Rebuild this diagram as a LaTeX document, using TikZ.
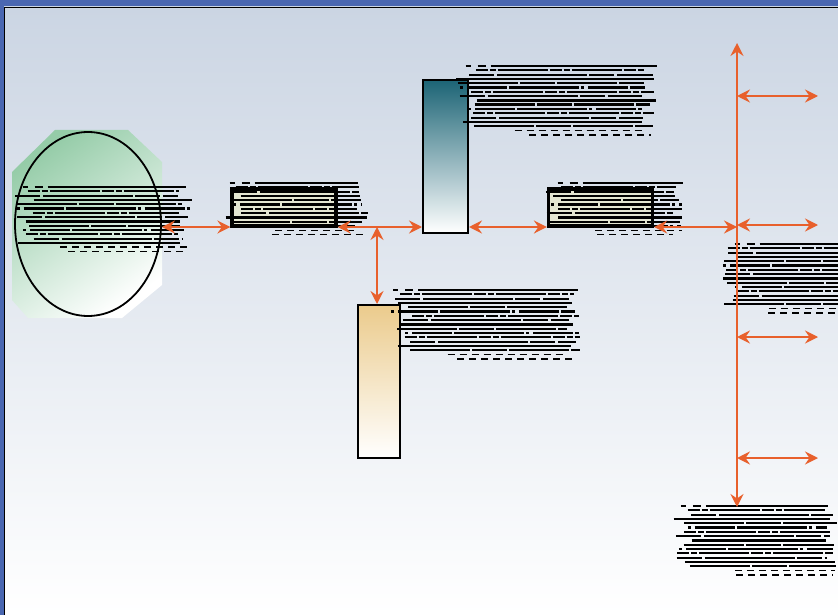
\documentclass[tikz,border=0pt]{standalone}
\usetikzlibrary{shapes.geometric,arrows.meta}
\definecolor{frameblue}{HTML}{4A67B1}
\definecolor{bgtop}{HTML}{CBD5E3}
\definecolor{arrorange}{HTML}{E8602C}
\definecolor{tealtop}{HTML}{1C6475}
\definecolor{tantop}{HTML}{EBCB8C}
\definecolor{greentop}{HTML}{95CCA8}
\definecolor{boxfill}{HTML}{E4E6D2}
\tikzset{
  darr/.style={draw=arrorange, line width=2.4pt,
    {Stealth[length=13pt,width=13pt,inset=4.5pt]}-{Stealth[length=13pt,width=13pt,inset=4.5pt]}},
  flatbox/.style={rectangle, draw=black, line width=3.2pt, fill=boxfill,
    minimum width=104pt, minimum height=37pt, inner sep=0pt},
  bar/.style={rectangle, draw=black, line width=2pt, inner sep=0pt, bottom color=white},
  scr0/.style={black, line width=2.4pt, dash pattern=on 60pt off 2pt on 35pt off 2pt},
  scr1/.style={black, line width=2.1pt, dash pattern=on 25pt off 3pt on 90pt off 2pt},
  scr2/.style={black, line width=2.3pt, dash pattern=on 3pt off 4pt on 40pt off 2pt on 70pt off 2pt},
  scr3/.style={black, line width=2.6pt},
  scr4/.style={black, line width=2.0pt, dash pattern=on 12pt off 2pt on 6pt off 2pt on 50pt off 2pt},
  scr5/.style={black, line width=2.0pt, dash pattern=on 5pt off 7pt on 8pt off 5pt on 300pt},
  scr6/.style={black, line width=1.6pt, dash pattern=on 7pt off 5pt},
}
\pgfmathsetseed{12}
\newcommand\scrib[4]{%
  \foreach \r in {1,...,#4}{%
    \pgfmathsetmacro\yy{#2+(\r-1)*4.3}%
    \pgfmathsetmacro\xs{#1+rnd*0.12*#3}%
    \pgfmathsetmacro\xe{#1+#3-rnd*0.08*#3}%
    \pgfmathtruncatemacro\k{mod(\r*7,5)}%
    \ifnum\r=1 \def\k{5}\fi
    \ifnum\r>\numexpr#4-2\relax
      \def\k{6}%
      \pgfmathsetmacro\xs{#1+(0.25+0.15*rnd)*#3}%
    \fi
    \draw[scr\k] (\xs,\yy) -- (\xe,\yy);
  }}
\begin{document}
\begin{tikzpicture}[x=1pt,y=-1pt]
\useasboundingbox (0,0) rectangle (838,615);
% frame and background
\fill[frameblue] (0,0) rectangle (838,615);
\shade[top color=bgtop, bottom color=white] (4,7) rectangle (838,615);
\draw[black, line width=1pt] (4.5,615) -- (4.5,7.5) -- (838,7.5);
% green shape behind ellipse
\shade[top color=greentop, bottom color=white, shading angle=35]
  (12,172) -- (55,130) -- (128,130) -- (162,162) -- (162,285) -- (122,318) -- (28,318) -- (12,300) -- cycle;
% nodes
\node[ellipse, draw=black, line width=1.8pt, minimum width=146pt, minimum height=184pt, inner sep=0pt] (ell) at (88,224) {};
\node[flatbox] (b1) at (284,207.5) {};
\node[flatbox] (b2) at (600.5,207.5) {};
\node[bar, top color=tealtop, minimum width=45pt, minimum height=153pt] (teal) at (445.5,156.5) {};
\node[bar, top color=tantop, minimum width=42pt, minimum height=153pt] (tan) at (379,381.5) {};
% text blocks (illegible in the reference)
\scrib{15}{187}{177}{16}
\scrib{225}{183}{143}{13}
\scrib{455}{66}{202}{17}
\scrib{545}{183}{139}{13}
\scrib{390}{290}{192}{17}
\scrib{722}{244}{125}{17}
\scrib{672}{506}{166}{17}
% coordinates
\coordinate (jt) at (377,227);
\coordinate (vtop) at (737,43);
\coordinate (vbot) at (737,507);
\coordinate (vj) at (737,227);
\coordinate (h1a) at (737,96);   \coordinate (h1b) at (818,96);
\coordinate (h2a) at (737,225);  \coordinate (h2b) at (818,225);
\coordinate (h3a) at (737,337);  \coordinate (h3b) at (818,337);
\coordinate (h4a) at (737,458);  \coordinate (h4b) at (818,458);
% connectors
\draw[darr] (ell.east |- jt) -- (b1.west |- jt);
\draw[darr] (b1.east |- jt) -- (teal.west |- jt);
\draw[darr] (tan.north -| jt) -- (jt);
\draw[darr] (teal.east |- jt) -- (b2.west |- jt);
\draw[darr] (b2.east |- jt) -- (vj);
\draw[darr] (vbot) -- (vtop);
\draw[darr] (h1a) -- (h1b);
\draw[darr] (h2a) -- (h2b);
\draw[darr] (h3a) -- (h3b);
\draw[darr] (h4a) -- (h4b);
\end{tikzpicture}
\end{document}
